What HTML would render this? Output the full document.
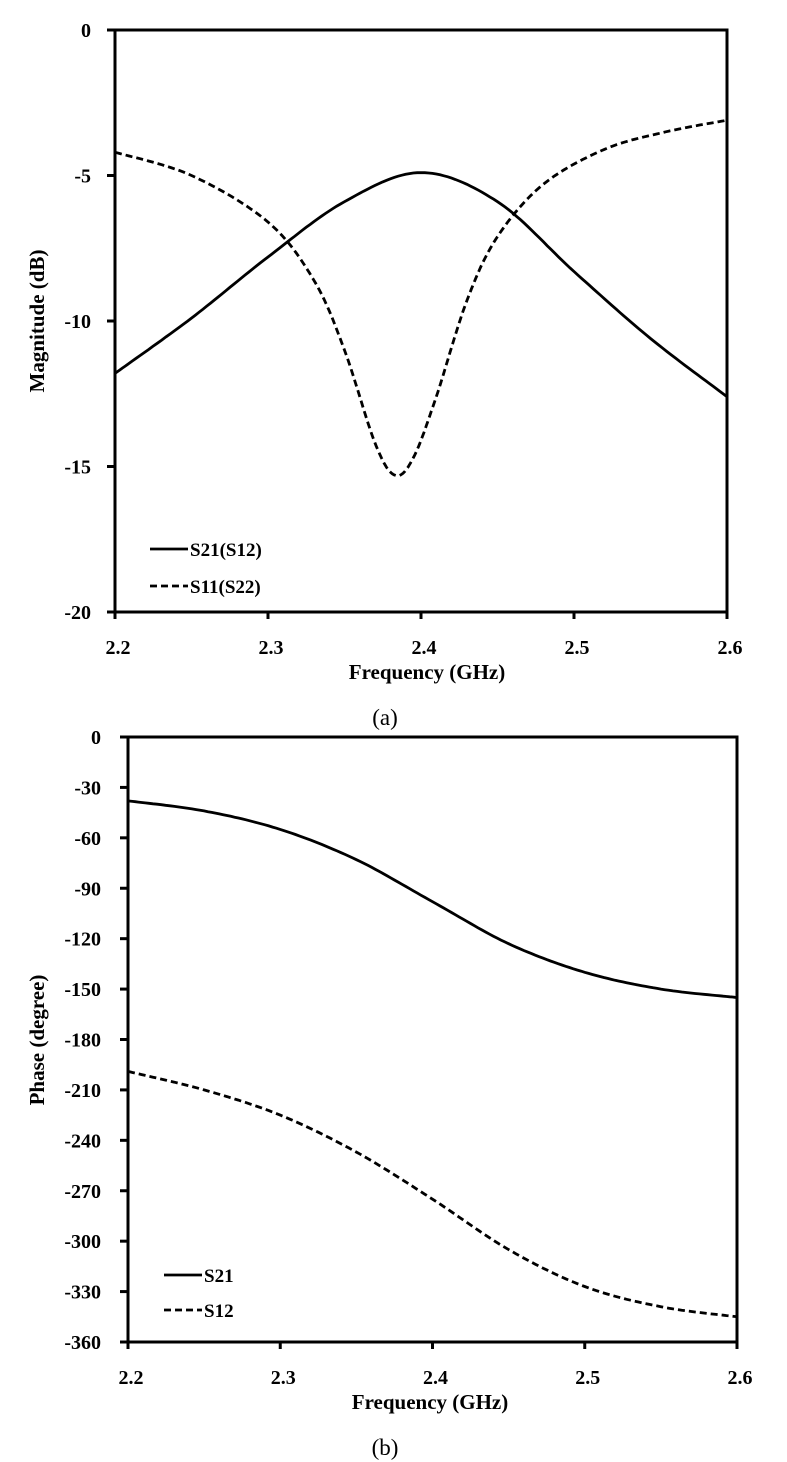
<!DOCTYPE html>
<html><head><meta charset="utf-8"><style>
html,body{margin:0;padding:0;background:#fff}
svg{display:block}
text{font-family:"Liberation Serif",serif;fill:#000}
.t{font-size:20px;font-weight:bold}
.l{font-size:19px;font-weight:bold}
.ti{font-size:21px;font-weight:bold}
.cap{font-size:23px}
</style></head><body>
<svg id="s" width="787" height="1462" viewBox="0 0 787 1462" xmlns="http://www.w3.org/2000/svg">
<g id="ga"></g><g id="gb"></g>
<text class="ti" x="427" y="679" text-anchor="middle">Frequency (GHz)</text>
<text class="cap" x="385" y="725" text-anchor="middle">(a)</text>
<text class="ti" x="430" y="1409" text-anchor="middle">Frequency (GHz)</text>
<text class="cap" x="385" y="1455" text-anchor="middle">(b)</text>
<text class="ti" transform="translate(44,321) rotate(-90)" text-anchor="middle">Magnitude (dB)</text>
<text class="ti" transform="translate(44,1040) rotate(-90)" text-anchor="middle">Phase (degree)</text>
</svg>
<script>
var NS="http://www.w3.org/2000/svg";
function el(g,t,a,txt){var e=document.createElementNS(NS,t);for(var k in a)e.setAttribute(k,a[k]);if(txt!=null)e.textContent=txt;g.appendChild(e);return e;}
function cr(pts,n){var out=[];for(var i=0;i<pts.length-1;i++){var p0=pts[Math.max(0,i-1)],p1=pts[i],p2=pts[i+1],p3=pts[Math.min(pts.length-1,i+2)];for(var j=0;j<n;j++){var t=j/n,t2=t*t,t3=t2*t;var f=function(a,b,c,d){return 0.5*((2*b)+(-a+c)*t+(2*a-5*b+4*c-d)*t2+(-a+3*b-3*c+d)*t3)};out.push([f(p0[0],p1[0],p2[0],p3[0]),f(p0[1],p1[1],p2[1],p3[1])]);}}out.push(pts[pts.length-1]);return out;}
function chart(g,L,R,T,B,ymin,ymax,ystep,series,legend,lx,ly,ldy,labx){
 var X=function(f){return L+(f-2.2)/0.4*(R-L)},Y=function(v){return T+(ymax-v)/(ymax-ymin)*(B-T)};
 series.forEach(function(s){var p=cr(s.pts,20).map(function(q){return X(q[0]).toFixed(1)+","+Y(q[1]).toFixed(1)}).join(" ");
  el(g,"polyline",{points:p,fill:"none",stroke:"#000","stroke-width":2.8,"stroke-dasharray":s.dash?"7,4":"none"});});
 el(g,"path",{d:"M"+L+" "+T+" H"+R+" V"+B+" H"+L+" Z",fill:"none",stroke:"#000","stroke-width":3});
 for(var v=ymax;v>=ymin-0.001;v-=ystep){var y=Y(v);el(g,"line",{x1:L-8,x2:L,y1:y,y2:y,stroke:"#000","stroke-width":3});
  el(g,"text",{class:"t",x:labx,y:y+7,"text-anchor":"end"},String(Math.round(v)));}
 for(var i=0;i<=4;i++){var x=X(2.2+i*0.1);el(g,"line",{x1:x,x2:x,y1:B,y2:B+7,stroke:"#000","stroke-width":3});
  el(g,"text",{class:"t",x:x+3,y:B+42,"text-anchor":"middle"},(2.2+i*0.1).toFixed(1));}
 legend.forEach(function(l,i){var y=ly+i*ldy;el(g,"line",{x1:lx,x2:lx+38,y1:y,y2:y,stroke:"#000","stroke-width":2.8,"stroke-dasharray":l.dash?"7,4":"none"});
  el(g,"text",{class:"l",x:lx+40,y:y+7},l.t);});
}
chart(document.getElementById("ga"),115,727,30,612,-20,0,5,[
 {pts:[[2.2,-11.8],[2.25,-9.9],[2.3,-7.8],[2.35,-5.9],[2.4,-4.9],[2.45,-5.9],[2.5,-8.3],[2.55,-10.6],[2.6,-12.6]]},
 {dash:1,pts:[[2.2,-4.2],[2.25,-5.0],[2.3,-6.6],[2.33,-8.6],[2.35,-11.0],[2.37,-14.2],[2.383,-15.3],[2.395,-14.7],[2.41,-12.6],[2.43,-9.3],[2.45,-7.1],[2.48,-5.3],[2.52,-4.1],[2.56,-3.5],[2.6,-3.1]]}
],[{t:"S21(S12)"},{t:"S11(S22)",dash:1}],150,549,37,91);
chart(document.getElementById("gb"),128,737,737,1342,-360,0,30,[
 {pts:[[2.2,-38],[2.25,-44],[2.3,-55],[2.35,-73],[2.4,-98],[2.45,-123],[2.5,-140],[2.55,-150],[2.6,-155]]},
 {dash:1,pts:[[2.2,-199],[2.25,-210],[2.3,-225],[2.35,-247],[2.4,-275],[2.45,-305],[2.5,-327],[2.55,-339],[2.6,-345]]}
],[{t:"S21"},{t:"S12",dash:1}],164,1275,35,101);
</script>
</body></html>
